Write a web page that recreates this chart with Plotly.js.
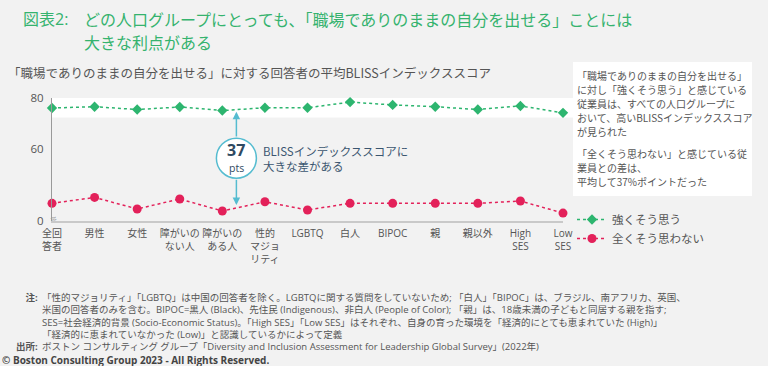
<!DOCTYPE html>
<html><head><meta charset="utf-8">
<script src="https://cdn.plot.ly/plotly-3.0.1.min.js"></script>
<style>html,body{margin:0;padding:0;background:#f2f2f2;} #chart{width:768px;height:366px;}</style>
</head><body><div id="chart"></div>
<script>
// ---- data ----
const categories = ["全回<br>答者","男性","女性","障がいの<br>ない人","障がいの<br>ある人","性的<br>マジョ<br>リティ","LGBTQ","白人","BIPOC","親","親以外","High<br>SES","Low<br>SES"];
const strongAgree = [76.1,76.6,75.5,76.5,75.1,76.2,76.2,78.4,77.3,76.6,75.5,76.9,74.2];
const stronglyDisagree = [38.9,41.2,36.7,40.6,35.9,39.5,36.3,38.9,38.9,38.9,38.9,39.8,35.1];
const seriesNames = ["強くそう思う","全くそう思わない"];
const yTickVals = [32,60,80];
const yTickText = ["0","60","80"];
const gapValue = "37";
const titleLines = ["どの人口グループにとっても、「職場でありのままの自分を出せる」ことには", "大きな利点がある"];
const boxLines = [
  "「職場でありのままの自分を出せる」",
  "に対し「強くそう思う」と感じている",
  "従業員は、すべての人口グループに",
  "おいて、高いBLISSインデックススコア",
  "が見られた",
  "「全くそう思わない」と感じている従",
  "業員との差は、",
  "平均して37%ポイントだった"
];
const noteLines = [
  "「性的マジョリティ」「LGBTQ」は中国の回答者を除く。LGBTQに関する質問をしていないため; 「白人」「BIPOC」は、ブラジル、南アフリカ、英国、",
  "米国の回答者のみを含む。BIPOC=黒人 (Black)、先住民 (Indigenous)、非白人 (People of Color); 「親」は、18歳未満の子どもと同居する親を指す;",
  "SES=社会経済的背景 (Socio-Economic Status)。「High SES」「Low SES」はそれぞれ、自身の育った環境を「経済的にとても恵まれていた (High)」",
  "「経済的に恵まれていなかった (Low)」と認識しているかによって定義"
];
const sourceText = "ボストン コンサルティング グループ「Diversity and Inclusion Assessment for Leadership Global Survey」(2022年)";

// ---- style ----
const FONT = "'Open Sans', 'Noto Sans CJK JP', sans-serif";
const CJK = "'Noto Sans CJK JP', 'Noto Sans', sans-serif";
const GREEN = "#2db56f", RED = "#e3215a", TITLE_GREEN = "#35b36e", TEAL = "#55bcd0", GRAY = "#555555";
const L = 52, T = 98, W = 511, H = 123;
const px2x = p => (p - L) / W;
const py2y = p => (T + H - p) / H;

const traces = [
  {x: categories, y: strongAgree, name: seriesNames[0], type: "scatter", mode: "lines+markers",
   line: {color: GREEN, width: 1.5, dash: "dot"}, marker: {symbol: "diamond", size: 8, color: GREEN},
   cliponaxis: false, hoverinfo: "skip"},
  {x: categories, y: stronglyDisagree, name: seriesNames[1], type: "scatter", mode: "lines+markers",
   line: {color: RED, width: 1.5, dash: "dot"}, marker: {symbol: "circle", size: 9, color: RED},
   cliponaxis: false, hoverinfo: "skip"}
];

const arrowX = 4.33;
const annotations = [
  {xref: "paper", yref: "paper", x: px2x(21), y: py2y(19), xanchor: "left", yanchor: "middle", showarrow: false,
   text: "図表2:", font: {family: FONT, size: 16, color: TITLE_GREEN}},
  {xref: "paper", yref: "paper", x: px2x(82), y: py2y(19), xanchor: "left", yanchor: "middle", showarrow: false,
   text: titleLines[0], font: {family: CJK, size: 16, color: TITLE_GREEN}},
  {xref: "paper", yref: "paper", x: px2x(82), y: py2y(42), xanchor: "left", yanchor: "middle", showarrow: false,
   text: titleLines[1], font: {family: CJK, size: 16, color: TITLE_GREEN}},
  {xref: "paper", yref: "paper", x: px2x(6), y: py2y(73), xanchor: "left", yanchor: "middle", showarrow: false,
   text: "「職場でありのままの自分を出せる」に対する回答者の平均BLISSインデックススコア",
   font: {family: CJK, size: 12.5, color: GRAY}},
  // arrows
  {xref: "x", yref: "y", axref: "x", ayref: "y", x: arrowX, y: 74.6, ax: arrowX, ay: 64.4, text: "", showarrow: true,
   arrowhead: 2, arrowsize: 1, arrowwidth: 1.5, arrowcolor: TEAL, standoff: 0, startstandoff: 0},
  {xref: "x", yref: "y", axref: "x", ayref: "y", x: arrowX, y: 38.2, ax: arrowX, ay: 48.7, text: "", showarrow: true,
   arrowhead: 2, arrowsize: 1, arrowwidth: 1.5, arrowcolor: TEAL, standoff: 0, startstandoff: 0},
  {xref: "x", yref: "paper", x: arrowX, y: py2y(150), xanchor: "center", yanchor: "middle", showarrow: false,
   text: "<b>" + gapValue + "</b>", font: {family: FONT, size: 16, color: "#2f4a62"}},
  {xref: "x", yref: "paper", x: arrowX, y: py2y(168), xanchor: "center", yanchor: "middle", showarrow: false,
   text: "pts", font: {family: FONT, size: 10.5, color: "#2f4a62"}},
  {xref: "paper", yref: "paper", x: px2x(261), y: py2y(158), xanchor: "left", yanchor: "middle", align: "left", showarrow: false,
   text: "BLISSインデックススコアに<br>大きな差がある", font: {family: CJK, size: 11.5, color: "#3b5670"}},
  // axis break mark
  {xref: "paper", yref: "paper", x: px2x(53), y: py2y(218), xanchor: "center", yanchor: "middle", showarrow: false,
   text: "≈", textangle: -15, font: {family: FONT, size: 11, color: "#999"}},
  // notes block
  {xref: "paper", yref: "paper", x: px2x(40), y: py2y(289), xanchor: "right", yanchor: "top", align: "right", showarrow: false,
   text: "<b>注:</b><br> <br> <br> <br><b>出所:</b>", font: {family: FONT, size: 9.5, color: GRAY}},
  {xref: "paper", yref: "paper", x: px2x(40), y: py2y(289), xanchor: "left", yanchor: "top", align: "left", showarrow: false,
   text: noteLines.join("<br>") + "<br>" + sourceText, font: {family: FONT, size: 9.5, color: GRAY}},
  {xref: "paper", yref: "paper", x: px2x(0), y: py2y(360), xanchor: "left", yanchor: "middle", showarrow: false,
   text: "<b>© Boston Consulting Group 2023 - All Rights Reserved.</b>",
   font: {family: FONT, size: 10, color: "#444"}}
];
// right-hand note box, one line per annotation
const boxLineY = [75, 89, 103, 117, 131, 153, 167, 181];
boxLines.forEach((t, i) => annotations.push({
  xref: "paper", yref: "paper", x: px2x(576), y: py2y(boxLineY[i]), xanchor: "left", yanchor: "middle",
  showarrow: false, borderpad: 0, text: t, font: {family: CJK, size: 10, color: GRAY}}));

const shapes = [
  {type: "rect", xref: "paper", yref: "y", x0: 0, x1: px2x(573), y0: 72.4, y1: 80,
   fillcolor: "#ffffff", line: {width: 0}, layer: "below"},
  {type: "rect", xref: "paper", yref: "paper", x0: px2x(573), x1: px2x(752), y0: py2y(196), y1: py2y(62),
   fillcolor: "#ffffff", line: {width: 0}, layer: "below"},
  {type: "circle", xref: "x", yref: "y", xsizemode: "pixel", ysizemode: "pixel",
   xanchor: arrowX, yanchor: 56.5, x0: -20, x1: 20, y0: -20, y1: 20,
   fillcolor: "#ffffff", line: {color: TEAL, width: 1.5}, layer: "above"}
];

const layout = {
  width: 768, height: 366,
  margin: {l: L, r: 768 - L - W, t: T, b: 366 - T - H, pad: 0},
  paper_bgcolor: "#f2f2f2", plot_bgcolor: "rgba(0,0,0,0)",
  font: {family: FONT, size: 12, color: GRAY},
  showlegend: true,
  legend: {x: px2x(572), y: py2y(205), xanchor: "left", yanchor: "top", bgcolor: "rgba(0,0,0,0)",
           font: {family: CJK, size: 11.5, color: GRAY}, itemwidth: 30, tracegroupgap: 0},
  xaxis: {type: "category", range: [0, categories.length - 1], showgrid: false, zeroline: false,
          showline: true, linecolor: "#c9c9c9", linewidth: 2, ticks: "", fixedrange: true, tickangle: 0,
          ticklabelstandoff: 2, tickfont: {family: FONT, size: 10, color: GRAY}},
  yaxis: {range: [32, 80], tickvals: yTickVals, ticktext: yTickText, showgrid: false, zeroline: false,
          showline: true, linecolor: "#9a9a9a", linewidth: 1, ticks: "", fixedrange: true,
          ticklabelstandoff: 5, tickfont: {family: FONT, size: 11.5, color: GRAY}},
  shapes: shapes,
  annotations: annotations
};

Plotly.newPlot("chart", traces, layout, {staticPlot: true, displayModeBar: false});
</script>
</body></html>
